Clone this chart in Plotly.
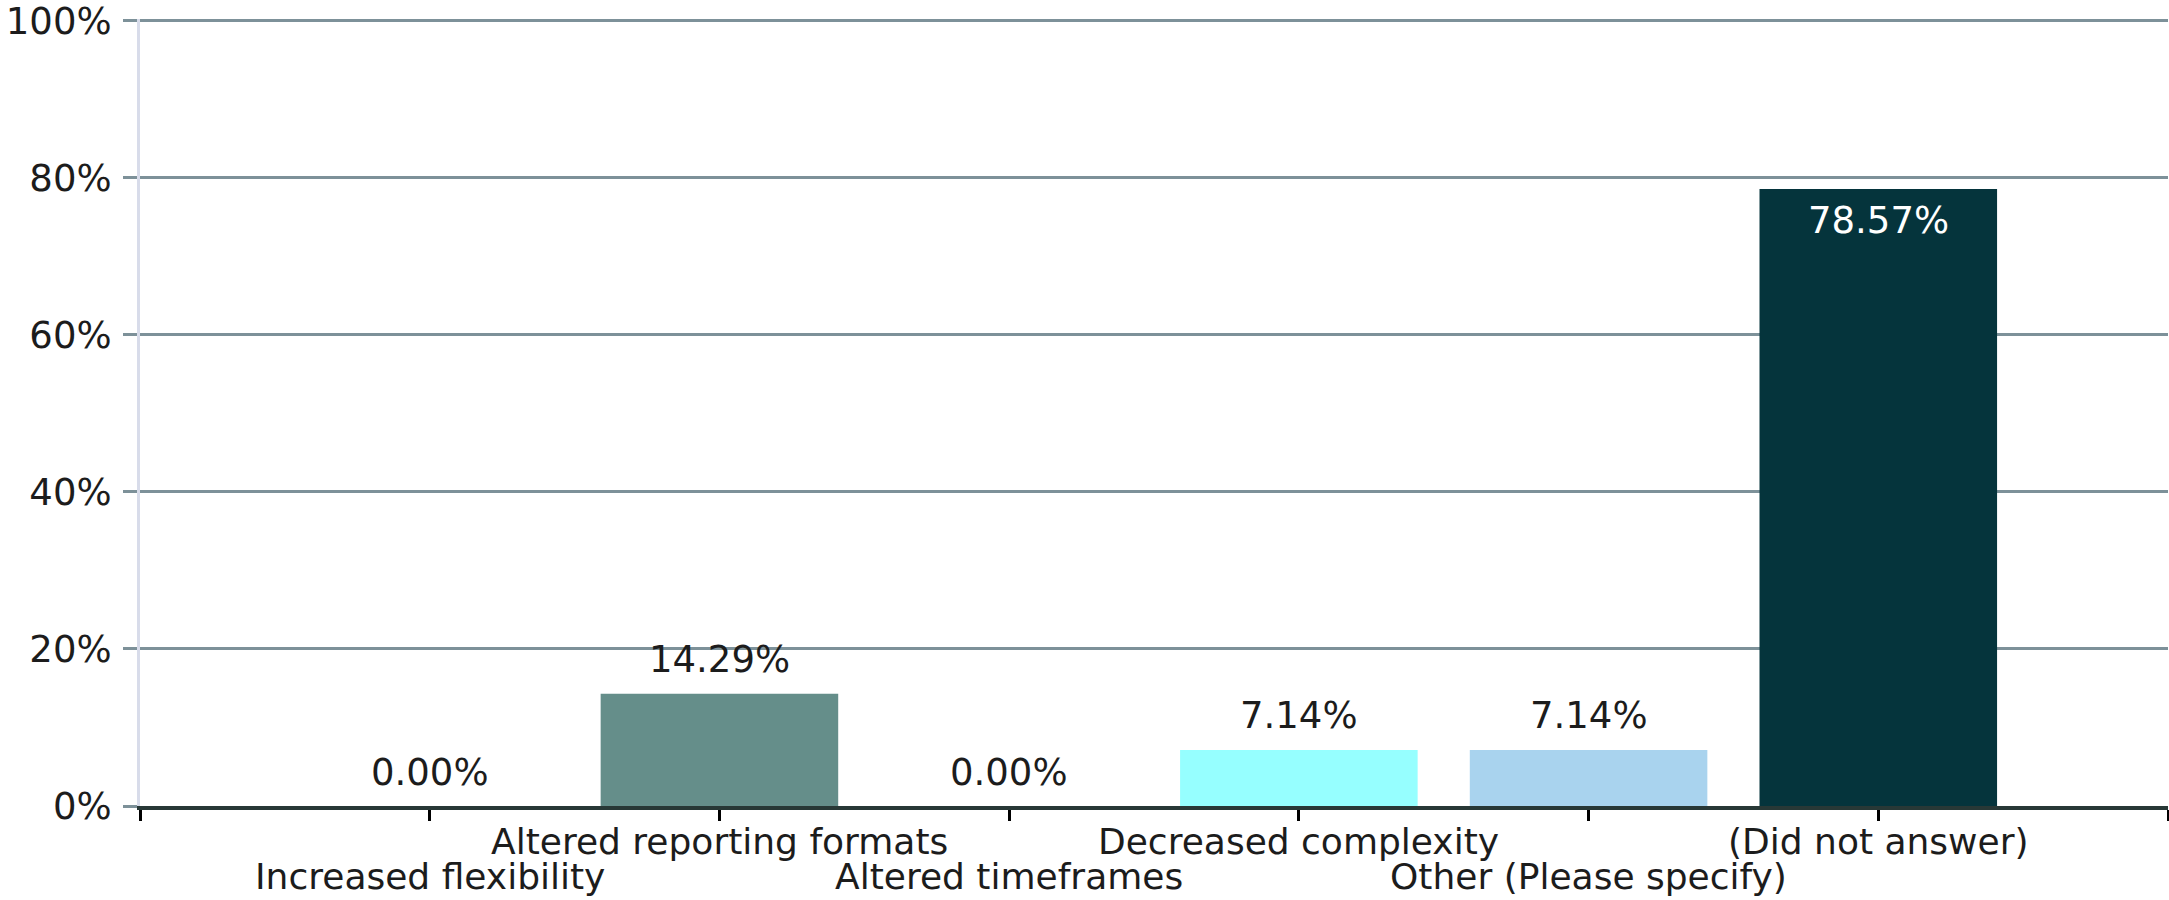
import plotly.graph_objects as go

categories = [
    "Increased flexibility",
    "Altered reporting formats",
    "Altered timeframes",
    "Decreased complexity",
    "Other (Please specify)",
    "(Did not answer)",
]
values = [0.00, 14.29, 0.00, 7.14, 7.14, 78.57]
bar_colors = ["#658e8a", "#658e8a", "#96ffff", "#96ffff", "#a9d3ee", "#05343c"]
y_ticks = [0, 20, 40, 60, 80, 100]

FONT = "DejaVu Sans"
TXT = "#1c1c1c"
GRID = "#7d9199"

xpos = list(range(len(categories)))

fig = go.Figure()
fig.add_trace(go.Bar(
    x=xpos, y=values, width=0.82,
    marker=dict(color=bar_colors, line=dict(width=0)),
    hoverinfo="skip", showlegend=False,
))

annotations = []
for i, (cat, v) in enumerate(zip(categories, values)):
    inside = v > 70
    annotations.append(dict(
        x=i, y=v, xref="x", yref="y", text=f"{v:.2f}%", showarrow=False,
        yanchor="middle", yshift=-32 if inside else 34,
        font=dict(family=FONT, size=37, color="#ffffff" if inside else TXT),
    ))
    annotations.append(dict(
        x=i, y=0, xref="x", yref="paper", text=cat, showarrow=False,
        yanchor="middle", yshift=-70 if i % 2 == 0 else -35,
        font=dict(family=FONT, size=36, color=TXT),
    ))

fig.update_layout(
    width=2169, height=900, autosize=False,
    margin=dict(l=140, r=1, t=19, b=94, pad=0),
    paper_bgcolor="white", plot_bgcolor="white",
    bargap=0.18,
    annotations=annotations,
    xaxis=dict(
        range=[-1, len(categories)],
        tickvals=list(range(-1, len(categories) + 1)),
        showticklabels=False,
        ticks="outside", ticklen=11, tickwidth=3, tickcolor="#000000",
        showline=True, linewidth=4, linecolor="#283836",
        showgrid=False, zeroline=False,
    ),
    yaxis=dict(
        range=[0, 100.2],
        tickvals=y_ticks, ticktext=[f"{t}%" for t in y_ticks],
        ticks="outside", ticklen=14, tickwidth=3, tickcolor=GRID,
        ticklabelstandoff=4, ticklabeloverflow="allow",
        tickfont=dict(family=FONT, size=37, color=TXT),
        showgrid=True, gridcolor=GRID, gridwidth=3,
        showline=True, linewidth=3, linecolor="#d8dcea",
        zeroline=False,
    ),
)

fig.write_html("out.html", config={"displayModeBar": False},
               post_script="document.body.style.margin='0';")
